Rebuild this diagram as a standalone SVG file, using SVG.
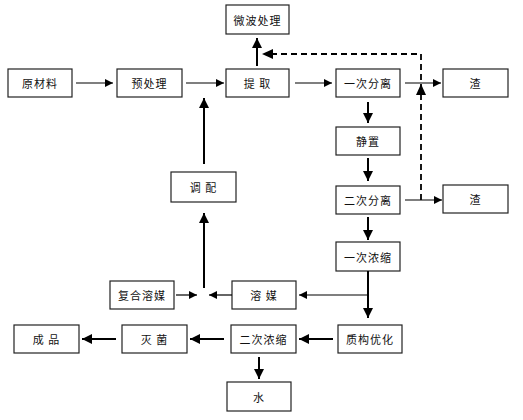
<svg xmlns="http://www.w3.org/2000/svg" width="523" height="420" viewBox="0 0 523 420">
<style>
.box{fill:#fff;stroke:#222;stroke-width:1.2}
.t{font-family:"Noto Sans CJK SC","Noto Sans",sans-serif;font-size:11px;fill:#111;text-anchor:middle;dominant-baseline:central;letter-spacing:1px}
.l{stroke:#000;stroke-width:1.2;fill:none}
.b{stroke:#000;stroke-width:2;fill:none}
.d{stroke:#000;stroke-width:1.8;fill:none;stroke-dasharray:6,4}
</style>
<defs>
<marker id="ah" viewBox="0 0 10 10" refX="10" refY="5" markerWidth="8" markerHeight="8" markerUnits="userSpaceOnUse" orient="auto"><path d="M0,0 L10,5 L0,10 Z" fill="#000"/></marker>
<marker id="ahb" viewBox="0 0 10 10" refX="10" refY="5" markerWidth="10" markerHeight="10" markerUnits="userSpaceOnUse" orient="auto"><path d="M0,0 L10,5 L0,10 Z" fill="#000"/></marker>
</defs>
<rect width="523" height="420" fill="#fff"/>
<g id="n1"><rect class="box" x="8" y="69" width="64" height="28"/><text class="t" x="40" y="83">原材料</text></g>
<g id="n2"><rect class="box" x="117" y="69" width="65" height="28"/><text class="t" x="149.5" y="83">预处理</text></g>
<g id="n3"><rect class="box" x="226" y="69" width="63" height="28"/><text class="t" x="257.5" y="83">提 取</text></g>
<g id="n4"><rect class="box" x="336" y="69" width="64" height="28"/><text class="t" x="368" y="83">一次分离</text></g>
<g id="n5"><rect class="box" x="443" y="69" width="65" height="28"/><text class="t" x="475.5" y="83">渣</text></g>
<g id="n6"><rect class="box" x="226" y="5" width="63" height="29"/><text class="t" x="257.5" y="19.5">微波处理</text></g>
<g id="n7"><rect class="box" x="336" y="127" width="64" height="28"/><text class="t" x="368" y="141">静置</text></g>
<g id="n8"><rect class="box" x="336" y="186" width="64" height="28"/><text class="t" x="368" y="200">二次分离</text></g>
<g id="n9"><rect class="box" x="443" y="185" width="65" height="28"/><text class="t" x="475.5" y="199">渣</text></g>
<g id="n10"><rect class="box" x="336" y="242" width="64" height="29"/><text class="t" x="368" y="256.5">一次浓缩</text></g>
<g id="n11"><rect class="box" x="171" y="172" width="65" height="30"/><text class="t" x="203.5" y="187">调 配</text></g>
<g id="n12"><rect class="box" x="110" y="281" width="64" height="28"/><text class="t" x="142" y="295">复合溶媒</text></g>
<g id="n13"><rect class="box" x="232" y="281" width="64" height="28"/><text class="t" x="264" y="295">溶 媒</text></g>
<g id="n14"><rect class="box" x="14" y="325" width="65" height="28"/><text class="t" x="46.5" y="339">成 品</text></g>
<g id="n15"><rect class="box" x="122" y="325" width="65" height="28"/><text class="t" x="154.5" y="339">灭 菌</text></g>
<g id="n16"><rect class="box" x="231" y="325" width="65" height="28"/><text class="t" x="263.5" y="339">二次浓缩</text></g>
<g id="n17"><rect class="box" x="338" y="325" width="64" height="28"/><text class="t" x="370" y="339">质构优化</text></g>
<g id="n18"><rect class="box" x="227" y="382" width="64" height="29"/><text class="t" x="259" y="396.5">水</text></g>
<g id="connectors">
<line class="l" x1="76" y1="83" x2="113" y2="83" marker-end="url(#ah)"/>
<line class="l" x1="186" y1="83" x2="224" y2="83" marker-end="url(#ah)"/>
<line class="l" x1="295" y1="83" x2="332" y2="83" marker-end="url(#ah)"/>
<line class="l" x1="405" y1="83" x2="441" y2="83" marker-end="url(#ah)"/>
<line class="b" x1="257" y1="66" x2="257" y2="38" marker-end="url(#ahb)"/>
<polyline class="d" points="421,200 421,54 272,54"/>
<path d="M262,54 L273,49 L273,59 Z" fill="#000"/>
<path d="M421,84 L416,95 L426,95 Z" fill="#000"/>
<line class="b" x1="204" y1="164" x2="204" y2="98" marker-end="url(#ahb)"/>
<line class="b" x1="368" y1="102" x2="368" y2="123" marker-end="url(#ahb)"/>
<line class="b" x1="368" y1="158" x2="368" y2="181" marker-end="url(#ahb)"/>
<line class="l" x1="405" y1="200" x2="442" y2="200" marker-end="url(#ah)"/>
<line class="b" x1="368" y1="217" x2="368" y2="240" marker-end="url(#ahb)"/>
<line class="b" x1="204" y1="288" x2="204" y2="213" marker-end="url(#ahb)"/>
<line class="l" x1="176" y1="295" x2="197" y2="295" marker-end="url(#ah)"/>
<line class="l" x1="232" y1="295" x2="209" y2="295" marker-end="url(#ah)"/>
<line class="b" x1="368" y1="271" x2="368" y2="318" marker-end="url(#ahb)"/>
<line class="l" x1="368" y1="295" x2="299" y2="295" marker-end="url(#ah)"/>
<line class="b" x1="333" y1="339" x2="299" y2="339" marker-end="url(#ahb)"/>
<line class="b" x1="224" y1="339" x2="190" y2="339" marker-end="url(#ahb)"/>
<line class="b" x1="116" y1="339" x2="82" y2="339" marker-end="url(#ahb)"/>
<line class="b" x1="259" y1="357" x2="259" y2="379" marker-end="url(#ahb)"/>
</g>
</svg>
